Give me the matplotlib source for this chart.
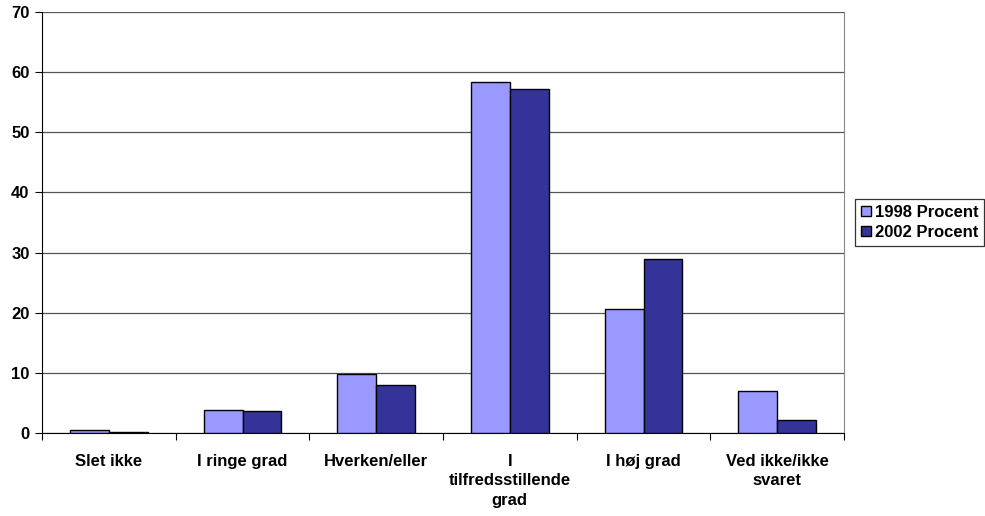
import matplotlib
matplotlib.use("Agg")
import matplotlib.pyplot as plt
import numpy as np

categories = ["Slet ikke", "I ringe grad", "Hverken/eller", "I\ntilfredsstillende\ngrad", "I høj grad", "Ved ikke/ikke\nsvaret"]
series_names = ["1998 Procent", "2002 Procent"]
values_1998 = [0.5, 3.9, 9.8, 58.4, 20.6, 7.0]
values_2002 = [0.2, 3.7, 8.0, 57.2, 28.9, 2.2]
colors = ["#9999FF", "#333399"]

plt.rcParams['font.family'] = ['Liberation Sans', 'DejaVu Sans']
plt.rcParams['font.weight'] = 'bold'

fig = plt.figure(figsize=(9.85, 5.16), dpi=100)
ax = fig.add_axes([42/985, 1-433/516, (844-42)/985, (433-12)/516])

x = np.arange(len(categories))
w = 0.29
ax.bar(x - w/2, values_1998, w, color=colors[0], edgecolor='black', linewidth=1.0, label=series_names[0], zorder=3)
ax.bar(x + w/2, values_2002, w, color=colors[1], edgecolor='black', linewidth=1.0, label=series_names[1], zorder=3)

ax.set_xlim(-0.5, len(categories) - 0.5)
ax.set_ylim(0, 70)
ax.set_yticks(range(0, 71, 10))
ax.set_yticklabels([str(v) for v in range(0, 71, 10)], fontsize=12, fontweight='bold')
ax.yaxis.grid(True, color='#555555', linewidth=0.9, zorder=0)
ax.set_axisbelow(True)

ax.set_xticks(np.arange(-0.5, len(categories), 1.0))
ax.set_xticklabels([])
ax.set_xticks(x, minor=True)
ax.set_xticklabels(categories, minor=True, fontsize=12, fontweight='bold', linespacing=1.38)
ax.tick_params(axis='x', which='minor', length=0, pad=15)
ax.tick_params(axis='x', which='major', length=5, direction='out', color='black')
ax.tick_params(axis='y', length=5, direction='out', pad=4)

ax.spines['top'].set_visible(False)
ax.spines['right'].set_color('#888888')
ax.spines['left'].set_color('black')
ax.spines['bottom'].set_color('black')

leg = ax.legend(loc='center left', bbox_to_anchor=(855/985, 1-222.5/516), bbox_transform=fig.transFigure,
                fontsize=12, frameon=True, fancybox=False, edgecolor='black',
                handlelength=0.6, handleheight=0.6, handletextpad=0.25, borderpad=0.35, labelspacing=0.3, borderaxespad=0)
leg.get_frame().set_linewidth(0.9)
for t in leg.get_texts():
    t.set_fontweight('bold')

fig.savefig("out.png", dpi=100)
